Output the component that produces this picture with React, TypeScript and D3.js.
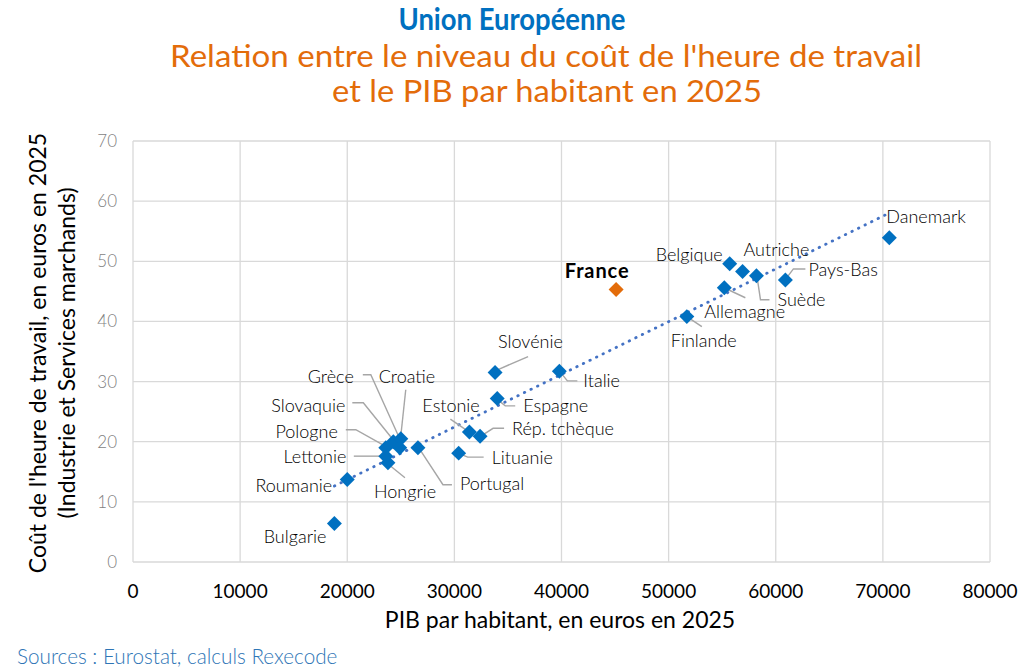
import * as React from 'react';
import * as d3 from 'd3';

// Données (PIB/hab en euros, coût horaire en euros)
const countries = ['Bulgarie', 'Roumanie', 'Hongrie', 'Lettonie', 'Pologne', 'Slovaquie', 'Grèce', 'Croatie',
  'Portugal', 'Lituanie', 'Estonie', 'Rép. tchèque', 'Espagne', 'Slovénie', 'Italie', 'Finlande',
  'Allemagne', 'Belgique', 'Autriche', 'Suède', 'Pays-Bas', 'Danemark'];
const gdpPerHead = [18800, 20000, 23800, 23600, 23600, 24300, 25000, 24900,
  26600, 30400, 31400, 32400, 34000, 33800, 39800, 51700,
  55200, 55700, 56900, 58200, 60900, 70600];
const labourCost = [6.4, 13.7, 16.5, 17.6, 19.0, 20.0, 20.5, 19.0,
  19.0, 18.1, 21.6, 20.9, 27.2, 31.5, 31.7, 40.8,
  45.6, 49.6, 48.3, 47.6, 46.9, 53.9];

const franceName = 'France';
const franceGdp = 45100;
const franceCost = 45.3;

const xTicks = [0, 10000, 20000, 30000, 40000, 50000, 60000, 70000, 80000];
const yTicks = [0, 10, 20, 30, 40, 50, 60, 70];

// placement des étiquettes, en pixels par rapport au point
type Lbl = { dx: number; dy: number; anchor?: string; lead?: [number, number][] };
const labelLayout: Record<string, Lbl> = {
  'Danemark': { dx: -3, dy: -21 },
  'Belgique': { dx: -7, dy: -9, anchor: 'end' },
  'Autriche': { dx: 1, dy: -22 },
  'Pays-Bas': { dx: 23, dy: -10, lead: [[20, -11], [8, -11], [2, -3]] },
  'Suède': { dx: 21, dy: 24, lead: [[13, 24], [4, 24], [1, 4]] },
  'Allemagne': { dx: -20, dy: 24, lead: [[21, 10], [4, 2]] },
  'Finlande': { dx: -16, dy: 24, lead: [[15, 10], [3, 2]] },
  'Slovénie': { dx: 3, dy: -31, lead: [[33, -16], [3, -3]] },
  'Italie': { dx: 24, dy: 9.5, lead: [[18, 9.5], [8, 9.5], [2, 2]] },
  'Espagne': { dx: 26, dy: 7.5, lead: [[18, 7.5], [8, 7.5], [2, 2.5]] },
  'Estonie': { dx: -47, dy: -26, lead: [[-19, -13], [-3, -2]] },
  'Rép. tchèque': { dx: 32, dy: -8, lead: [[24, -8], [13, -8], [2, -1]] },
  'Lituanie': { dx: 33, dy: 5, lead: [[25, 4], [9, 4], [2, 1]] },
  'Portugal': { dx: 42, dy: 36, lead: [[34, 37], [25, 37], [2, 2]] },
  'Grèce': { dx: -47, dy: -62, anchor: 'end', lead: [[-38, -64], [-30, -64], [-2, -2]] },
  'Croatie': { dx: -21, dy: -71, lead: [[6, -58], [0, -2]] },
  'Slovaquie': { dx: -48, dy: -36, anchor: 'end', lead: [[-41, -39], [-30, -39], [-1, -3]] },
  'Pologne': { dx: -48, dy: -16, anchor: 'end', lead: [[-40, -18], [-30, -18], [-1.5, -2]] },
  'Lettonie': { dx: -39.5, dy: 1, anchor: 'end', lead: [[-32, 0], [-2, 0]] },
  'Hongrie': { dx: -14, dy: 29, lead: [[17, 15], [1, 2]] },
  'Roumanie': { dx: -15, dy: 6, anchor: 'end' },
  'Bulgarie': { dx: -8, dy: 13.5, anchor: 'end' },
};

const W = 1023, H = 671;
const margin = { left: 133, right: 33, top: 141, bottom: 109 };
const FONT = 'Lato, "Open Sans", sans-serif';
const BLUE = '#0070C0';
const ORANGE = '#E36C0A';

export default function App() {
  const x = d3.scaleLinear().domain([0, 80000]).range([margin.left, W - margin.right]);
  const y = d3.scaleLinear().domain([0, 70]).range([H - margin.bottom, margin.top]);

  const pts = countries.map((c, i) => ({ name: c, gx: gdpPerHead[i], cy: labourCost[i] }));

  // droite de tendance linéaire (moindres carrés)
  const mx = d3.mean(gdpPerHead)!;
  const my = d3.mean(labourCost)!;
  let sxy = 0, sxx = 0;
  gdpPerHead.forEach((v, i) => { sxy += (v - mx) * (labourCost[i] - my); sxx += (v - mx) * (v - mx); });
  const slope = sxy / sxx;
  const [x0, x1] = d3.extent(gdpPerHead) as [number, number];
  const trend = d3.line<number>().x(d => x(d)).y(d => y(my + slope * (d - mx)))([x0, x1]);

  const diamond = d3.symbol().type(d3.symbolSquare).size(112)();
  const lead = d3.line();

  return (
    <svg width={W} height={H} style={{ position: 'absolute', left: 0, top: 0, background: '#fff' }}
      fontFamily={FONT}>
      <text x={512} y={30} textAnchor="middle" fontSize={31} fontWeight={700} fill={BLUE}
        textLength={227} lengthAdjust="spacingAndGlyphs">Union Européenne</text>
      <text x={546} y={67} textAnchor="middle" fontSize={30} fill={ORANGE}
        textLength={752} lengthAdjust="spacingAndGlyphs">Relation entre le niveau du coût de l'heure de travail</text>
      <text x={547} y={102} textAnchor="middle" fontSize={30} fill={ORANGE}
        textLength={430} lengthAdjust="spacingAndGlyphs">et le PIB par habitant en 2025</text>

      {/* grille */}
      <g stroke="#d9d9d9" strokeWidth={1.3}>
        {xTicks.map(t => <line key={'gx' + t} x1={x(t)} x2={x(t)} y1={y(0)} y2={y(70)} />)}
        {yTicks.map(t => <line key={'gy' + t} x1={x(0)} x2={x(80000)} y1={y(t)} y2={y(t)} />)}
      </g>

      {xTicks.map(t => (
        <text key={'tx' + t} x={x(t)} y={598} textAnchor="middle" fontSize={19} fill="#000">{t}</text>
      ))}
      {yTicks.map(t => (
        <text key={'ty' + t} x={117} y={y(t) + 6} textAnchor="end" fontSize={17} fontWeight={300} fill="#7f7f7f">{t}</text>
      ))}

      <text x={560} y={628} textAnchor="middle" fontSize={23} fill="#000">PIB par habitant, en euros en 2025</text>
      <g transform="translate(46,353) rotate(-90)">
        <text x={0} y={0} textAnchor="middle" fontSize={23} fill="#000">Coût de l'heure de travail, en euros en 2025</text>
        <text x={0} y={29} textAnchor="middle" fontSize={23} fill="#000">(Industrie et Services marchands)</text>
      </g>

      {/* droite de tendance */}
      <path d={trend || ''} fill="none" stroke="#4472C4" strokeWidth={2.8} strokeDasharray="0.5 6.8" strokeLinecap="round" />

      {/* traits de rappel */}
      <g fill="none" stroke="#a6a6a6" strokeWidth={1.4}>
        {pts.map(p => {
          const l = labelLayout[p.name];
          if (!l || !l.lead) return null;
          const px = x(p.gx), py = y(p.cy);
          return <path key={'l' + p.name} d={lead(l.lead.map(([a, b]) => [px + a, py + b] as [number, number])) || ''} />;
        })}
      </g>

      {pts.map(p => (
        <path key={'p' + p.name} d={diamond || ''} fill={BLUE}
          transform={`translate(${x(p.gx)},${y(p.cy)}) rotate(45)`} />
      ))}
      <path d={diamond || ''} fill={ORANGE} transform={`translate(${x(franceGdp)},${y(franceCost)}) rotate(45)`} />

      {pts.map(p => {
        const l = labelLayout[p.name];
        return (
          <text key={'t' + p.name} x={x(p.gx) + l.dx} y={y(p.cy) + l.dy} dy="0.35em"
            textAnchor={l.anchor || 'start'} fontSize={18} fontWeight={300} fill="#000">{p.name}</text>
        );
      })}
      <text x={x(franceGdp) - 19} y={y(franceCost) - 19} dy="0.35em" textAnchor="middle"
        fontSize={20} fontWeight={700} letterSpacing={0.9} fill="#000">{franceName}</text>

      <text x={17} y={664} fontSize={20.7} fontWeight={300} fill="#2E75B6">Sources : Eurostat, calculs Rexecode</text>
    </svg>
  );
}
